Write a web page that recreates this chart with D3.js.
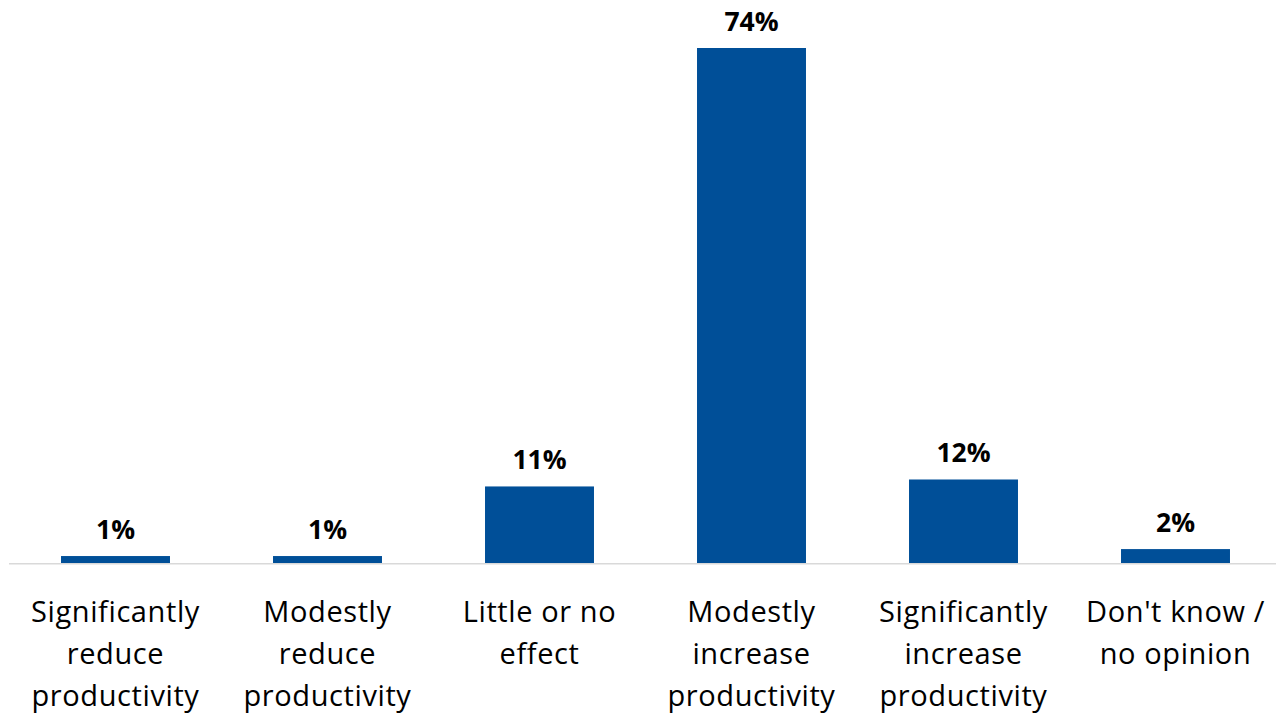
<!DOCTYPE html>
<html>
<head>
<meta charset="utf-8">
<script src="https://cdn.jsdelivr.net/npm/d3@7"></script>
<style>
  html, body { margin: 0; padding: 0; background: #fff; }
  svg { display: block; }
  text { font-family: "Open Sans", "Noto Sans", sans-serif; }
</style>
</head>
<body>
<svg id="chart" width="1276" height="714"></svg>
<script>
// Survey responses: expected effect on productivity (share of respondents, %)
const categories = [
  ["Significantly", "reduce", "productivity"],
  ["Modestly", "reduce", "productivity"],
  ["Little or no", "effect"],
  ["Modestly", "increase", "productivity"],
  ["Significantly", "increase", "productivity"],
  ["Don't know /", "no opinion"]
];
const values = [1, 1, 11, 74, 12, 2];
const valueLabels = ["1%", "1%", "11%", "74%", "12%", "2%"];

const W = 1276, H = 714;
const baseY = 563, topY = 48;
const svg = d3.select("#chart");

const ids = categories.map((_, i) => i);
const x = d3.scaleBand()
  .domain(ids)
  .range([9.5, 1281.5])
  .paddingInner(0.486)
  .paddingOuter(0.243);

const y = d3.scaleLinear()
  .domain([0, 74])
  .range([baseY, topY]);

// bars
svg.append("g")
  .selectAll("rect")
  .data(values)
  .join("rect")
  .attr("x", (d, i) => x(i))
  .attr("y", d => y(d))
  .attr("width", x.bandwidth())
  .attr("height", d => baseY - y(d))
  .attr("fill", "#004f98");

// baseline
svg.append("line")
  .attr("x1", 9).attr("x2", W)
  .attr("y1", baseY + 0.8).attr("y2", baseY + 0.8)
  .attr("stroke", "#d9d9d9")
  .attr("stroke-width", 1.6);

// value labels
svg.append("g")
  .selectAll("text")
  .data(values)
  .join("text")
  .attr("x", (d, i) => x(i) + x.bandwidth() / 2)
  .attr("y", d => y(d) - 17)
  .attr("text-anchor", "middle")
  .attr("font-size", 26.5)
  .attr("font-weight", 700)
  .attr("fill", "#000")
  .text((d, i) => valueLabels[i]);

// category labels
const cat = svg.append("g")
  .selectAll("text")
  .data(categories)
  .join("text")
  .attr("x", (d, i) => x(i) + x.bandwidth() / 2)
  .attr("y", 622)
  .attr("text-anchor", "middle")
  .attr("font-size", 29)
  .attr("letter-spacing", 0.6)
  .attr("fill", "#000");

cat.selectAll("tspan")
  .data(d => d)
  .join("tspan")
  .attr("x", function () { return d3.select(this.parentNode).attr("x"); })
  .attr("dy", (d, j) => j === 0 ? 0 : 42)
  .text(d => d);
</script>
</body>
</html>
